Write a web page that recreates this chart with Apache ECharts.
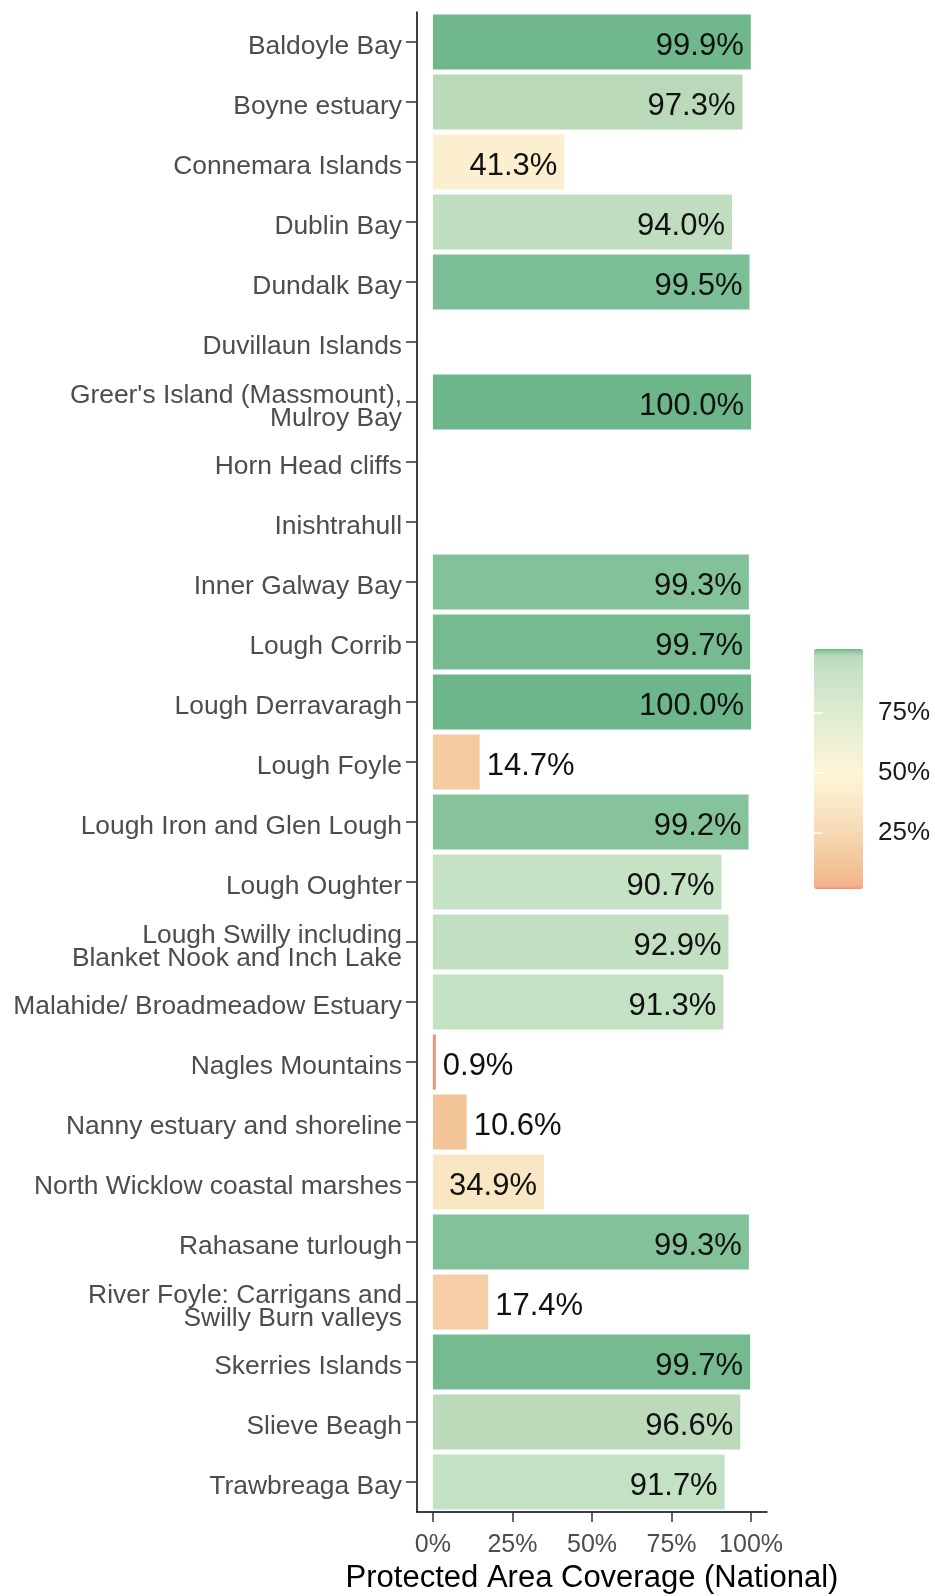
<!DOCTYPE html>
<html>
<head>
<meta charset="utf-8">
<script src="https://cdn.jsdelivr.net/npm/echarts@6/dist/echarts.min.js"></script>
<style>
  html, body { margin: 0; padding: 0; background: #fff; }
  #chart { width: 935px; height: 1596px; }
</style>
</head>
<body>
<div id="chart"></div>
<script>
const sites = [
  'Baldoyle Bay', 'Boyne estuary', 'Connemara Islands', 'Dublin Bay', 'Dundalk Bay',
  'Duvillaun Islands', "Greer's Island (Massmount),\nMulroy Bay", 'Horn Head cliffs',
  'Inishtrahull', 'Inner Galway Bay', 'Lough Corrib', 'Lough Derravaragh', 'Lough Foyle',
  'Lough Iron and Glen Lough', 'Lough Oughter',
  'Lough Swilly including\nBlanket Nook and Inch Lake', 'Malahide/ Broadmeadow Estuary',
  'Nagles Mountains', 'Nanny estuary and shoreline', 'North Wicklow coastal marshes',
  'Rahasane turlough', 'River Foyle: Carrigans and\nSwilly Burn valleys', 'Skerries Islands',
  'Slieve Beagh', 'Trawbreaga Bay'
]
// null = no bar drawn
const coverage = [
  99.9, 97.3, 41.3, 94.0, 99.5,
  null, 100.0, null,
  null, 99.3, 99.7, 100.0, 14.7,
  99.2, 90.7,
  92.9, 91.3,
  0.9, 10.6, 34.9,
  99.3, 17.4, 99.7,
  96.6, 91.7
]
const xTicks = [0, 25, 50, 75, 100]
const legendTicks = [25, 50, 75]

// colour ramp (value -> colour)
const colorStops = [
  [0, '#f47068'], [2, '#f3b38c'], [10.6, '#f3c497'], [25, '#f7d9b5'],
  [41.3, '#fbefd0'], [50, '#fcf4d7'], [75, '#dcebd0'], [90.7, '#c6e2c5'],
  [97.3, '#bbd9b9'], [99.2, '#86c39b'], [100, '#6db68a']
]
const cMin = 0.9, cMax = 100

function hex2rgb(h) {
  return [1, 3, 5].map(i => parseInt(h.slice(i, i + 2), 16))
}
function rampColor(v) {
  for (let i = 1; i < colorStops.length; i++) {
    const [v1, c1] = colorStops[i]
    const [v0, c0] = colorStops[i - 1]
    if (v <= v1) {
      const t = (v - v0) / (v1 - v0)
      const a = hex2rgb(c0), b = hex2rgb(c1)
      const c = a.map((x, k) => Math.round(x + (b[k] - x) * t))
      return 'rgb(' + c.join(',') + ')'
    }
  }
  return colorStops[colorStops.length - 1][1]
}
const palette = []
for (let i = 0; i <= 400; i++) palette.push(rampColor(cMin + (cMax - cMin) * i / 400))

const barData = []
sites.forEach((s, i) => {
  if (coverage[i] == null) return
  barData.push({
    value: [coverage[i], s],
    label: { position: coverage[i] >= 30 ? 'insideRight' : 'right' }
  })
})

// ggplot text sits a few px below the tick, pad every line the same
function siteLabel(v) {
  return v.split('\n').map(s => '{a|' + s + '}').join('\n')
}

const font = '"Liberation Sans", Arial, sans-serif'
const chart = echarts.init(document.getElementById('chart'))
chart.setOption({
  animation: false,
  backgroundColor: '#fff',
  textStyle: { fontFamily: font },
  grid: [
    { left: 417, top: 12, width: 350, height: 1500, outerBoundsMode: 'none', containLabel: false },
    { left: 814, top: 653, width: 49, height: 240, outerBoundsMode: 'none', containLabel: false }
  ],
  xAxis: [{
    type: 'value',
    gridIndex: 0,
    min: -5,
    max: 105,
    name: 'Protected Area Coverage (National)',
    nameLocation: 'middle',
    nameGap: 50,
    nameTextStyle: { fontSize: 31, color: '#000', fontFamily: font },
    axisLine: { show: true, onZero: false, lineStyle: { color: '#000', width: 1.5 } },
    axisTick: { show: true, length: 10, customValues: xTicks, lineStyle: { color: '#333', width: 1.5 } },
    axisLabel: {
      customValues: xTicks,
      formatter: '{value}%',
      fontSize: 25,
      color: '#4d4d4d',
      margin: 21
    },
    splitLine: { show: false }
  }, {
    type: 'value',
    gridIndex: 1,
    show: false
  }],
  yAxis: [{
    type: 'category',
    gridIndex: 0,
    data: sites,
    inverse: true,
    axisLine: { show: true, onZero: false, lineStyle: { color: '#000', width: 1.5 } },
    axisTick: { show: true, length: 11, alignWithLabel: true, lineStyle: { color: '#333', width: 1.5 } },
    axisLabel: {
      margin: 15,
      interval: 0,
      formatter: siteLabel,
      rich: {
        a: { fontSize: 26.4, color: '#4d4d4d', lineHeight: 23, padding: [10, 0, 0, 0], fontFamily: font }
      }
    }
  }, {
    type: 'value',
    gridIndex: 1,
    min: 0,
    max: 100,
    position: 'right',
    z: 10,
    axisLine: { show: false },
    splitLine: { show: false },
    axisTick: { show: true, inside: true, length: 9, customValues: legendTicks, lineStyle: { color: '#fff', width: 1.5 } },
    axisLabel: { customValues: legendTicks, formatter: '{value}%', fontSize: 26, color: '#1a1a1a', margin: 15 }
  }, {
    type: 'value',
    gridIndex: 1,
    min: 0,
    max: 100,
    position: 'left',
    z: 10,
    axisLine: { show: false },
    splitLine: { show: false },
    axisTick: { show: true, inside: true, length: 9, customValues: legendTicks, lineStyle: { color: '#fff', width: 1.5 } },
    axisLabel: { show: false }
  }],
  visualMap: {
    type: 'continuous',
    min: cMin,
    max: cMax,
    dimension: 0,
    seriesIndex: 0,
    calculable: false,
    hoverLink: false,
    itemWidth: 49,
    itemHeight: 240,
    left: 814,
    top: 649,
    padding: 0,
    inRange: { color: palette }
  },
  series: [{
    type: 'bar',
    xAxisIndex: 0,
    yAxisIndex: 0,
    barCategoryGap: '8%',
    data: barData,
    label: {
      show: true,
      distance: 7,
      fontSize: 31,
      color: '#111',
      offset: [0, 4],
      formatter: p => p.value[0].toFixed(1) + '%'
    }
  }]
})
</script>
</body>
</html>
